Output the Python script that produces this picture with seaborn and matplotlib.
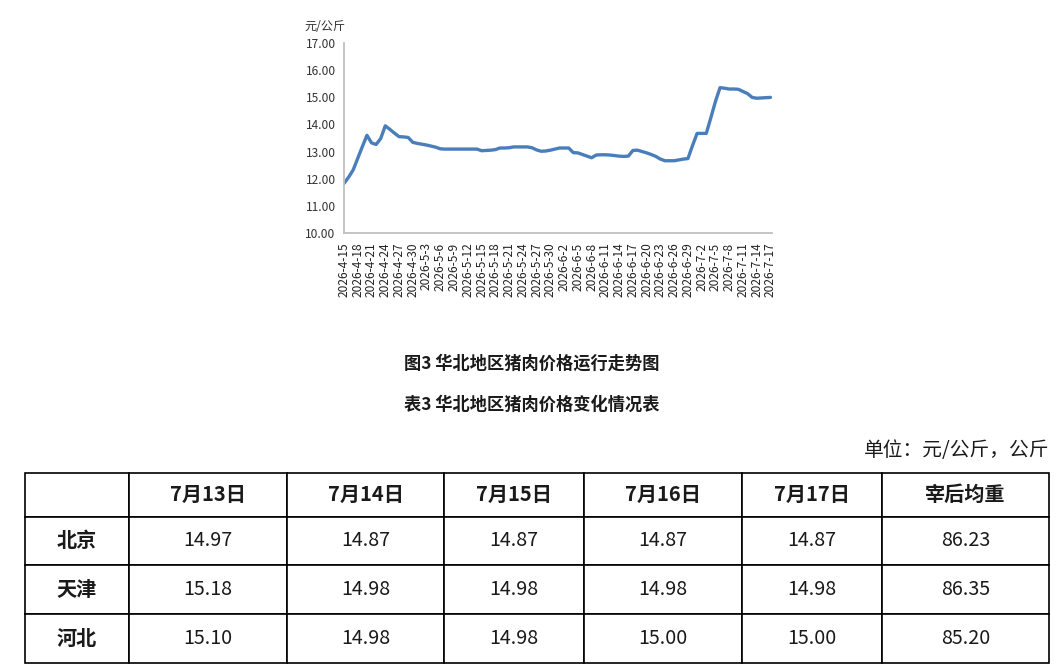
import matplotlib
matplotlib.use("Agg")
import matplotlib.pyplot as plt
import seaborn as sns
import pandas as pd
import numpy as np

# ---------------- data ----------------
start_date = "2026-04-15"
end_date = "2026-07-17"
prices = [
    11.82, 12.05, 12.32, 12.75, 13.18, 13.60, 13.32, 13.26, 13.48, 13.95,
    13.82, 13.68, 13.55, 13.54, 13.52, 13.34, 13.30, 13.27, 13.24, 13.20,
    13.16, 13.10, 13.09, 13.09, 13.09, 13.09, 13.09, 13.09, 13.09, 13.09,
    13.03, 13.04, 13.05, 13.07, 13.13, 13.13, 13.14, 13.17, 13.17, 13.17,
    13.17, 13.14, 13.06, 13.01, 13.02, 13.05, 13.09, 13.13, 13.13, 13.13,
    12.96, 12.95, 12.89, 12.83, 12.77, 12.87, 12.88, 12.88, 12.87, 12.85,
    12.83, 12.82, 12.83, 13.04, 13.05, 13.00, 12.95, 12.89, 12.82, 12.72,
    12.66, 12.66, 12.66, 12.69, 12.72, 12.74, 13.22, 13.67, 13.67, 13.67,
    14.25, 14.85, 15.36, 15.34, 15.31, 15.31, 15.30, 15.22, 15.14, 15.00,
    14.97, 14.98, 14.99, 15.00,
]
y_ticks = [10, 11, 12, 13, 14, 15, 16, 17]

table_cols = ["", "7月13日", "7月14日", "7月15日", "7月16日", "7月17日", "宰后均重"]
regions = ["北京", "天津", "河北"]
beijing = ["14.97", "14.87", "14.87", "14.87", "14.87", "86.23"]
tianjin = ["15.18", "14.98", "14.98", "14.98", "14.98", "86.35"]
hebei = ["15.10", "14.98", "14.98", "15.00", "15.00", "85.20"]

fig_title = "图3 华北地区猪肉价格运行走势图"
table_title = "表3 华北地区猪肉价格变化情况表"
unit_text = "单位：元/公斤，公斤"
y_unit = "元/公斤"

# ---------------- style ----------------
sns.set_style("white")
FONT = ["Noto Sans CJK SC", "DejaVu Sans"]
plt.rcParams["font.family"] = FONT

W, H = 1063, 671
fig = plt.figure(figsize=(W / 100, H / 100), dpi=100)

dates = pd.date_range(start_date, end_date, freq="D")
df = pd.DataFrame({"date": dates, "price": prices})

ax_l, ax_r, ax_t, ax_b = 344, 772, 43.3, 232.7
ax = fig.add_axes([ax_l / W, 1 - ax_b / H, (ax_r - ax_l) / W, (ax_b - ax_t) / H])
sns.lineplot(data=df, x="date", y="price", ax=ax, color="#4A7EBB", linewidth=2.4)

ax.set_ylim(10, 17)
ax.set_yticks(y_ticks)
ax.set_yticklabels([f"{v:.2f}" for v in y_ticks], fontsize=8.6, color="#333333")
tick_dates = dates[::3]
ax.set_xticks(tick_dates)
ax.set_xticklabels([f"{d.year}-{d.month}-{d.day}" for d in tick_dates],
                   rotation=90, fontsize=8.6, color="#222222")
ax.set_xlim(dates[0], dates[-1] + pd.Timedelta(hours=8))
ax.set_xlabel("")
ax.set_ylabel("")
for s in ["top", "right"]:
    ax.spines[s].set_visible(False)
for s in ["left", "bottom"]:
    ax.spines[s].set_color("#BFBFBF")
    ax.spines[s].set_linewidth(1.3)
ax.tick_params(axis="both", which="major", length=4, width=1, color="#BFBFBF",
               pad=2, direction="out")
ax.tick_params(axis="x", pad=3)
ax.grid(False)

fig.text(304 / W, 1 - 27 / H, y_unit, fontsize=8.7, color="#333333",
         ha="left", va="center")

# titles
fig.text(531.5 / W, 1 - 364 / H, fig_title, fontsize=12.4, fontweight="bold",
         ha="center", va="center", color="#1a1a1a")
fig.text(531.5 / W, 1 - 405 / H, table_title, fontsize=12.4, fontweight="bold",
         ha="center", va="center", color="#1a1a1a")
fig.text(1049 / W, 1 - 450.7 / H, unit_text, fontsize=14.2, ha="right",
         va="center", color="#1a1a1a")

# ---------------- table ----------------
tb_l, tb_r, tb_t, tb_b = 25, 1049, 472.7, 663.3
tax = fig.add_axes([tb_l / W, 1 - tb_b / H, (tb_r - tb_l) / W, (tb_b - tb_t) / H])
tax.axis("off")
col_edges = [25, 129, 287, 444, 584, 742, 882, 1049]
col_widths = [b - a for a, b in zip(col_edges[:-1], col_edges[1:])]
rows = [table_cols] + [[r] + v for r, v in zip(regions, [beijing, tianjin, hebei])]
tbl = tax.table(cellText=rows, cellLoc="center", colWidths=col_widths,
                bbox=[0, 0, 1, 1])
tbl.auto_set_font_size(False)
row_heights = [44, 49, 49.2, 49]
for (r, c), cell in tbl.get_celld().items():
    cell.set_height(row_heights[r])
    cell.set_edgecolor("#000000")
    cell.set_linewidth(1.2)
    txt = cell.get_text()
    txt.set_family(FONT)
    txt.set_color("#1a1a1a")
    if r == 0 or c == 0:
        txt.set_fontweight("bold")
        txt.set_fontsize(14.5)
    else:
        txt.set_fontsize(14.2)

fig.savefig("out.png", dpi=100)
